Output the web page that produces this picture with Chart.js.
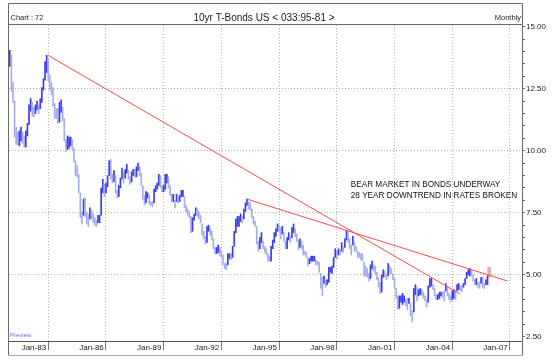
<!DOCTYPE html>
<html>
<head>
<meta charset="utf-8">
<script src="https://cdn.jsdelivr.net/npm/chart.js@4.4.0/dist/chart.umd.min.js"></script>
<style>
  html, body { margin: 0; padding: 0; background: #fff; }
  #wrap { width: 554px; height: 360px; }
</style>
</head>
<body>
<div id="wrap"><canvas id="bonds" width="554" height="360"></canvas></div>
<script>
// x values are months, 0 = Jan 1983
const firstMonth = -6; // Jul 1982

// monthly highs / lows, 10yr yield
const highs = [
  /* 1982 */ 14.05, 13.85, 12.75, 12.00, 10.95, 10.75,
  /* 1983 */ 10.80, 10.95, 10.75, 10.60, 10.80, 11.10, 11.85, 12.10, 11.95, 11.75, 11.85, 12.00,
  /* 1984 */ 11.85, 12.10, 12.55, 12.90, 13.60, 13.85, 13.70, 13.05, 12.75, 12.55, 11.90, 11.70,
  /* 1985 */ 11.70, 11.95, 12.05, 11.75, 11.30, 10.45, 10.60, 10.55, 10.55, 10.45, 10.10, 9.60,
  /* 1986 */ 9.40, 9.05, 8.30, 7.55, 8.05, 8.10, 7.50, 7.45, 7.70, 7.60, 7.45, 7.30,
  /* 1987 */ 7.20, 7.40, 7.40, 8.50, 8.85, 8.65, 8.70, 9.00, 9.60, 9.65, 9.05, 9.20,
  /* 1988 */ 9.00, 8.40, 8.60, 8.90, 9.30, 9.15, 9.25, 9.45, 9.20, 8.95, 9.15, 9.25,
  /* 1989 */ 9.25, 9.35, 9.50, 9.35, 9.10, 8.60, 8.20, 8.35, 8.30, 8.20, 7.95, 7.95,
  /* 1990 */ 8.45, 8.60, 8.70, 9.05, 9.00, 8.60, 8.60, 9.05, 9.05, 8.95, 8.60, 8.25,
  /* 1991 */ 8.25, 8.00, 8.25, 8.15, 8.20, 8.40, 8.40, 8.15, 7.80, 7.65, 7.55, 7.35,
  /* 1992 */ 7.30, 7.45, 7.70, 7.65, 7.55, 7.40, 7.05, 6.75, 6.55, 6.95, 7.00, 6.90,
  /* 1993 */ 6.75, 6.45, 6.10, 6.10, 6.20, 6.10, 5.95, 5.80, 5.45, 5.45, 5.85, 5.85,
  /* 1994 */ 5.85, 6.15, 6.75, 7.25, 7.35, 7.35, 7.45, 7.35, 7.65, 7.90, 8.05, 7.95,
  /* 1995 */ 7.90, 7.65, 7.35, 7.15, 6.95, 6.35, 6.50, 6.70, 6.35, 6.15, 6.05, 5.85,
  /* 1996 */ 5.75, 6.15, 6.40, 6.70, 6.85, 7.05, 7.00, 6.90, 6.95, 6.70, 6.35, 6.50,
  /* 1997 */ 6.70, 6.55, 6.90, 7.05, 6.85, 6.65, 6.40, 6.45, 6.35, 6.20, 5.95, 5.90,
  /* 1998 */ 5.70, 5.65, 5.75, 5.75, 5.75, 5.60, 5.55, 5.50, 5.05, 4.90, 4.95, 4.80,
  /* 1999 */ 4.80, 5.30, 5.30, 5.35, 5.70, 6.05, 5.95, 6.05, 6.00, 6.30, 6.15, 6.45,
  /* 2000 */ 6.80, 6.70, 6.45, 6.20, 6.55, 6.30, 6.15, 5.95, 5.90, 5.85, 5.85, 5.50,
  /* 2001 */ 5.35, 5.25, 5.05, 5.40, 5.55, 5.40, 5.35, 5.10, 4.90, 4.70, 5.00, 5.20,
  /* 2002 */ 5.15, 5.00, 5.45, 5.35, 5.25, 5.05, 4.85, 4.45, 4.15, 4.15, 4.15, 4.25,
  /* 2003 */ 4.15, 4.00, 4.05, 4.05, 3.85, 3.55, 4.45, 4.60, 4.50, 4.40, 4.45, 4.40,
  /* 2004 */ 4.30, 4.15, 4.00, 4.55, 4.85, 4.85, 4.60, 4.45, 4.20, 4.20, 4.30, 4.30,
  /* 2005 */ 4.30, 4.35, 4.65, 4.50, 4.25, 4.15, 4.35, 4.40, 4.35, 4.60, 4.65, 4.55,
  /* 2006 */ 4.55, 4.65, 4.85, 5.10, 5.20, 5.25, 5.20, 5.00, 4.80, 4.85, 4.70, 4.70,
  /* 2007 */ 4.90, 4.90, 4.65, 4.80, 4.95
];
const lows = [
  /* 1982 */ 13.40, 12.40, 11.95, 10.55, 10.25, 10.25,
  /* 1983 */ 10.20, 10.40, 10.30, 10.15, 10.15, 10.60, 11.05, 11.60, 11.40, 11.35, 11.50, 11.65,
  /* 1984 */ 11.50, 11.70, 11.95, 12.45, 12.85, 13.15, 12.80, 12.45, 12.25, 11.80, 11.30, 11.30,
  /* 1985 */ 11.10, 11.15, 11.55, 11.20, 10.40, 9.95, 10.05, 10.10, 10.20, 10.05, 9.55, 9.00,
  /* 1986 */ 8.95, 8.30, 7.30, 7.05, 7.40, 7.35, 7.05, 6.95, 7.25, 7.25, 7.10, 7.00,
  /* 1987 */ 6.95, 7.10, 7.10, 7.40, 8.30, 8.15, 8.30, 8.55, 9.00, 8.85, 8.70, 8.75,
  /* 1988 */ 8.30, 8.10, 8.15, 8.50, 8.85, 8.70, 8.90, 9.10, 8.85, 8.65, 8.75, 9.00,
  /* 1989 */ 8.95, 8.95, 9.20, 9.00, 8.60, 8.05, 7.80, 7.90, 8.10, 7.85, 7.80, 7.75,
  /* 1990 */ 7.90, 8.35, 8.45, 8.60, 8.50, 8.35, 8.35, 8.45, 8.70, 8.50, 8.20, 7.95,
  /* 1991 */ 7.95, 7.70, 7.95, 7.90, 7.95, 8.15, 8.15, 7.70, 7.50, 7.40, 7.30, 6.70,
  /* 1992 */ 6.75, 7.20, 7.40, 7.35, 7.25, 7.10, 6.60, 6.45, 6.25, 6.30, 6.75, 6.60,
  /* 1993 */ 6.40, 6.05, 5.85, 5.85, 5.90, 5.75, 5.70, 5.40, 5.25, 5.20, 5.40, 5.65,
  /* 1994 */ 5.60, 5.70, 6.15, 6.70, 6.95, 6.95, 7.15, 7.10, 7.25, 7.55, 7.80, 7.65,
  /* 1995 */ 7.60, 7.30, 7.05, 6.95, 6.25, 5.95, 6.05, 6.30, 6.05, 5.90, 5.80, 5.55,
  /* 1996 */ 5.55, 5.55, 6.05, 6.30, 6.55, 6.75, 6.75, 6.45, 6.65, 6.35, 6.05, 6.05,
  /* 1997 */ 6.40, 6.30, 6.50, 6.70, 6.55, 6.35, 6.00, 6.10, 6.05, 5.80, 5.80, 5.70,
  /* 1998 */ 5.35, 5.45, 5.55, 5.55, 5.55, 5.40, 5.40, 5.10, 4.45, 4.15, 4.65, 4.50,
  /* 1999 */ 4.60, 4.70, 5.10, 5.05, 5.30, 5.70, 5.65, 5.80, 5.80, 5.95, 5.90, 6.10,
  /* 2000 */ 6.40, 6.30, 6.05, 5.80, 6.20, 5.95, 5.95, 5.70, 5.70, 5.60, 5.55, 4.95,
  /* 2001 */ 4.95, 4.90, 4.75, 4.85, 5.25, 5.15, 5.05, 4.80, 4.50, 4.25, 4.30, 4.90,
  /* 2002 */ 4.90, 4.80, 4.95, 5.05, 5.05, 4.80, 4.45, 4.05, 3.60, 3.65, 3.90, 3.80,
  /* 2003 */ 3.90, 3.75, 3.60, 3.85, 3.35, 3.10, 3.50, 4.20, 3.95, 4.15, 4.20, 4.15,
  /* 2004 */ 4.05, 3.95, 3.70, 3.90, 4.50, 4.55, 4.40, 4.15, 4.00, 4.00, 4.05, 4.15,
  /* 2005 */ 4.10, 3.95, 4.35, 4.15, 4.00, 3.90, 4.00, 4.05, 4.00, 4.35, 4.40, 4.35,
  /* 2006 */ 4.30, 4.50, 4.60, 4.85, 5.00, 4.95, 4.95, 4.75, 4.60, 4.60, 4.50, 4.45,
  /* 2007 */ 4.65, 4.50, 4.45, 4.60, 4.60
];

// current (unfinished) month, drawn pink
const currentBar = { x: 293, low: 4.90, high: 5.30 };

// hand drawn trend lines
const trendLong = [{ x: 18, y: 13.84 }, { x: 274.9, y: 4.22 }];
const trendShort = [{ x: 142.4, y: 8.04 }, { x: 304.4, y: 4.75 }];

const xTicks = [0, 36, 72, 108, 144, 180, 216, 252, 288];
const xTickLabels = ['Jan-83', 'Jan-86', 'Jan-89', 'Jan-92', 'Jan-95', 'Jan-98', 'Jan-01', 'Jan-04', 'Jan-07'];
const yTicks = [2.5, 5, 7.5, 10, 12.5, 15];
const yTickLabels = ['2.50', '5.00', '7.50', '10.00', '12.50', '15.00'];

const noteLines = ['BEAR MARKET IN BONDS UNDERWAY', '28 YEAR DOWNTREND IN RATES BROKEN'];

// build bar data
const bars = [];
const barColors = [];
for (let i = 0; i < highs.length; i++) {
  bars.push({ x: firstMonth + i, y: [lows[i], highs[i]] });
  const mid = (highs[i] + lows[i]) / 2;
  const prev = i > 0 ? (highs[i - 1] + lows[i - 1]) / 2 : mid;
  barColors.push(mid >= prev ? '#3a3af4' : '#a4aeee');
}

Chart.defaults.font.family = '"Liberation Sans", Arial, sans-serif';
Chart.defaults.font.size = 8;
Chart.defaults.color = '#333';

const framePlugin = {
  id: 'frame',
  beforeDraw(chart) {
    const ctx = chart.ctx;
    ctx.save();
    ctx.fillStyle = '#fff';
    ctx.fillRect(0, 0, chart.width, chart.height);
    ctx.restore();
  },
  afterDraw(chart) {
    const ctx = chart.ctx;
    const area = chart.chartArea;
    const xs = chart.scales.x, ys = chart.scales.y;
    ctx.save();
    // outer frame
    ctx.strokeStyle = '#6a6a6a';
    ctx.lineWidth = 1;
    ctx.beginPath();
    ctx.moveTo(8.5, 355.5); ctx.lineTo(8.5, 3.5); ctx.lineTo(area.right + 0.5, 3.5); ctx.lineTo(area.right + 0.5, 355.5);
    ctx.moveTo(8.5, 24.5); ctx.lineTo(area.right + 0.5, 24.5);
    ctx.stroke();
    ctx.strokeStyle = '#a8a8a8';
    ctx.beginPath();
    ctx.moveTo(8.5, 355.5); ctx.lineTo(area.right + 0.5, 355.5);
    ctx.stroke();

    // header
    ctx.fillStyle = '#222';
    ctx.textBaseline = 'alphabetic';
    ctx.font = '7.5px "Liberation Sans", Arial, sans-serif';
    ctx.textAlign = 'left';
    ctx.fillText('Chart : 72', 10.5, 19.5);
    ctx.textAlign = 'right';
    ctx.fillText('Monthly', area.right - 1, 19.5);
    ctx.font = '10px "Liberation Sans", Arial, sans-serif';
    ctx.textAlign = 'center';
    ctx.fillText('10yr T-Bonds US < 033:95-81 >', 264, 20.5);

    // note
    ctx.font = '8.2px "Liberation Sans", Arial, sans-serif';
    ctx.textAlign = 'left';
    ctx.textBaseline = 'middle';
    ctx.fillStyle = '#111';
    ctx.fillText(noteLines[0], xs.getPixelForValue(206.7), ys.getPixelForValue(8.62));
    ctx.fillText(noteLines[1], xs.getPixelForValue(206.7), ys.getPixelForValue(8.19));

    // preview tag
    ctx.font = '6px "Liberation Sans", Arial, sans-serif';
    ctx.fillStyle = '#6b6bf0';
    ctx.fillText('Preview', 10, area.bottom - 6);
    ctx.restore();
  }
};

new Chart(document.getElementById('bonds'), {
  type: 'bar',
  data: {
    datasets: [
      {
        type: 'line',
        data: trendLong,
        borderColor: '#ff4a4a',
        borderWidth: 1,
        pointRadius: 0,
        fill: false,
        order: 0
      },
      {
        type: 'line',
        data: trendShort,
        borderColor: '#ff4a4a',
        borderWidth: 1,
        pointRadius: 0,
        fill: false,
        order: 0
      },
      {
        data: bars,
        backgroundColor: barColors,
        borderWidth: 0,
        barThickness: 1,
        grouped: false,
        order: 1
      },
      {
        data: [{ x: currentBar.x, y: [currentBar.low, currentBar.high] }],
        backgroundColor: '#f6a9a9',
        borderWidth: 0,
        barThickness: 3,
        grouped: false,
        order: 1
      }
    ]
  },
  plugins: [framePlugin],
  options: {
    responsive: false,
    animation: false,
    devicePixelRatio: 1,
    layout: { padding: { left: 9, top: 25, right: 0, bottom: 0 } },
    plugins: { legend: { display: false }, tooltip: { enabled: false } },
    scales: {
      x: {
        type: 'linear',
        min: -6.49,
        max: 313.5,
        offset: false,
        afterBuildTicks(scale) {
          scale.ticks = xTicks.map(v => ({ value: v }));
        },
        afterFit(scale) { scale.height = 19; },
        ticks: {
          autoSkip: false,
          maxRotation: 0,
          align: 'start',
          padding: -7,
          color: '#222',
          callback: (v, i) => ' ' + xTickLabels[i]
        },
        grid: {
          color: '#b4b4b4',
          lineWidth: 1,
          drawTicks: true,
          tickLength: 9,
          tickColor: '#777',
          tickBorderDash: []
        },
        border: { display: true, color: '#555', width: 1, dash: [1, 2] }
      },
      y: {
        type: 'linear',
        position: 'right',
        min: 2.33,
        max: 15.07,
        afterBuildTicks(scale) {
          const t = [];
          for (let v = yTicks[0]; v <= yTicks[yTicks.length - 1] + 0.001; v += 0.5) t.push({ value: v });
          scale.ticks = t;
        },
        afterFit(scale) { scale.width = 32; },
        ticks: {
          autoSkip: false,
          padding: 1,
          color: '#222',
          callback: (v) => {
            const k = yTicks.findIndex(t => Math.abs(t - v) < 0.001);
            return k >= 0 ? yTickLabels[k] : '';
          }
        },
        grid: {
          color: (c) => {
            const v = c.tick ? c.tick.value : null;
            const major = yTicks.some(t => Math.abs(t - v) < 0.001);
            return major && v > 2.6 && v < 14.9 ? '#b4b4b4' : 'rgba(0,0,0,0)';
          },
          lineWidth: 1,
          drawTicks: true,
          tickLength: 3,
          tickColor: '#666',
          tickBorderDash: []
        },
        border: { display: true, color: '#555', width: 1, dash: [1, 2] }
      }
    }
  }
});
</script>
</body>
</html>
